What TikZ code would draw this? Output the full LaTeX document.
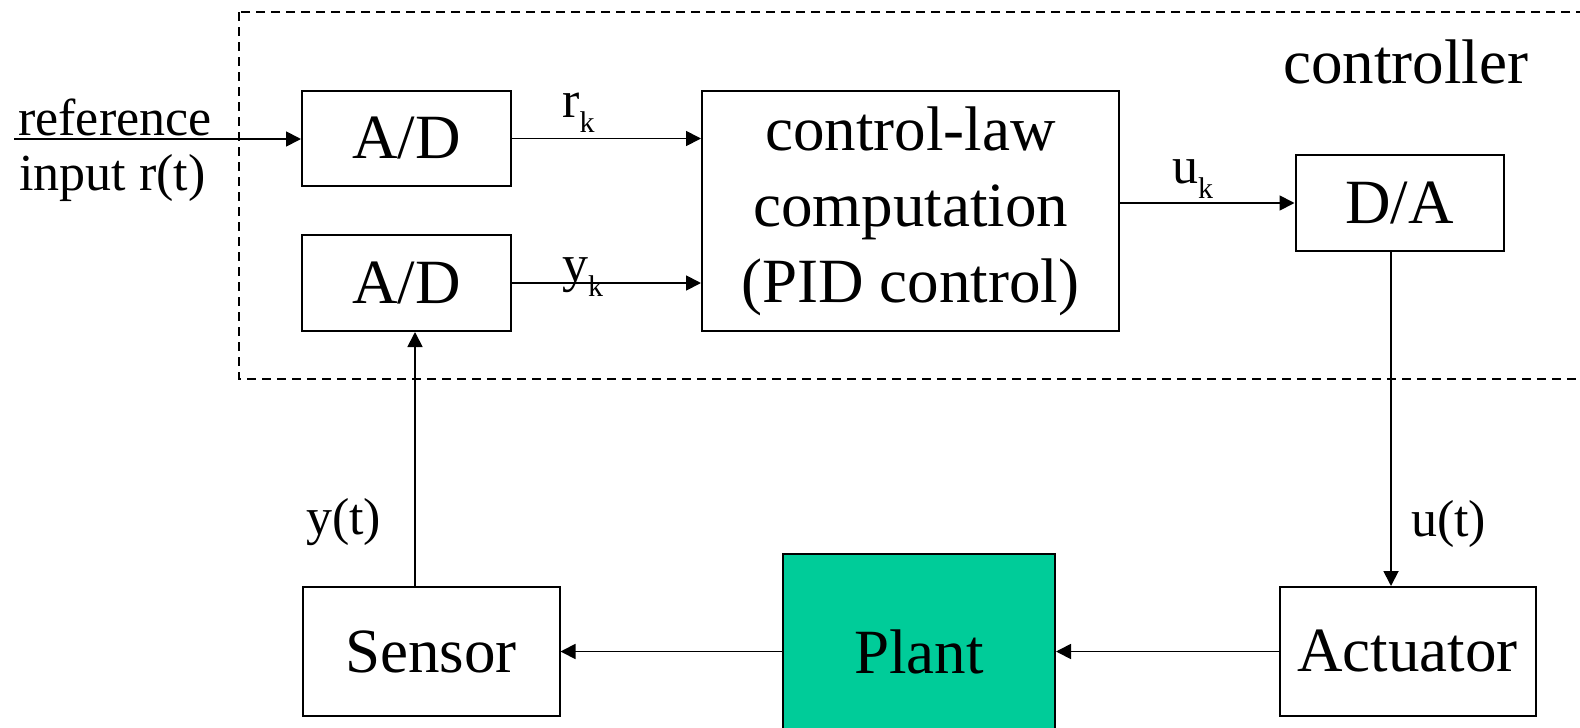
\documentclass[tikz,border=0pt]{standalone}
\usepackage{fontspec}
\setmainfont{Liberation Serif}
\usetikzlibrary{arrows.meta,calc}
\definecolor{plantgreen}{RGB}{0,204,153}
\newcommand\bigfnt{\fontsize{63}{76}\selectfont}
\newcommand\lblfnt{\fontsize{52}{62}\selectfont}
\newcommand\subk[1]{\raisebox{-15pt}{\fontsize{30}{30}\selectfont #1}}
\begin{document}
\begin{tikzpicture}[x=1pt,y=-1pt,
  box/.style={draw,line width=2pt,rectangle,inner sep=0pt,font=\bigfnt},
  arr/.style={line width=1.8pt,-{Triangle[length=15pt,width=15pt]}},
  lbl/.style={font=\lblfnt,inner sep=0pt,anchor=base west},
  ctlbox/.style={draw,line width=1.5pt,dash pattern=on 9pt off 6pt}]
\useasboundingbox (0,0) rectangle (1580,728);
\clip (0,0) rectangle (1580,728);
\fill[white] (0,0) rectangle (1580,728);
% controller frame
\draw[ctlbox] (239,12) rectangle (1610,379);
% blocks
\node[box,minimum width=209pt,minimum height=95pt] (ad1) at (406.5,138.5) {A/D};
\node[box,minimum width=209pt,minimum height=96pt] (ad2) at (406.5,283) {A/D};
\node[box,minimum width=417pt,minimum height=240pt] (clc) at (910.5,211) {\raisebox{-6pt}{\begin{tabular}{@{}c@{}}control-law\\computation\\(PID control)\end{tabular}}};
\node[box,minimum width=208pt,minimum height=96pt] (da) at (1399.5,203) {D/A};
\node[box,minimum width=257pt,minimum height=129pt] (sens) at (431,651.5) {Sensor};
\node[box,fill=plantgreen,minimum width=272pt,minimum height=206pt] (plant) at (919,657) {\raisebox{10pt}{Plant}};
\node[box,minimum width=256pt,minimum height=129pt] (act) at (1407.5,651.5) {Actuator};
% labels
\node[lbl] (ref) at (18,135) {reference};
\node[lbl] (inp) at (19,190) {input r(t)};
\node[lbl] (rk) at (562,117) {r\subk{k}};
\node[lbl] (yk) at (562,281) {y\subk{k}};
\node[lbl] (uk) at (1172,183) {u\subk{k}};
\node[lbl] (yt) at (306,534) {y(t)};
\node[lbl] (ut) at (1411,536) {u(t)};
\node[lbl,font=\bigfnt] (ctl) at (1283,83) {controller};
% connectors
\coordinate (rin) at (14,139);
\coordinate (ux) at (1391,0);
\coordinate (yx) at (415,0);
\draw[arr] (rin) -- (rin -| ad1.west);
\draw[arr] (ad1.east) -- (ad1.east -| clc.west);
\draw[arr] (ad2.east) -- (ad2.east -| clc.west);
\draw[arr] (clc.east |- da.west) -- (da.west);
\draw[arr] (da.south -| ux) -- (act.north -| ux);
\draw[arr] (act.west) -- (act.west -| plant.east);
\draw[arr] (plant.west |- sens.east) -- (sens.east);
\draw[arr] (sens.north -| yx) -- (ad2.south -| yx);
\end{tikzpicture}
\end{document}
